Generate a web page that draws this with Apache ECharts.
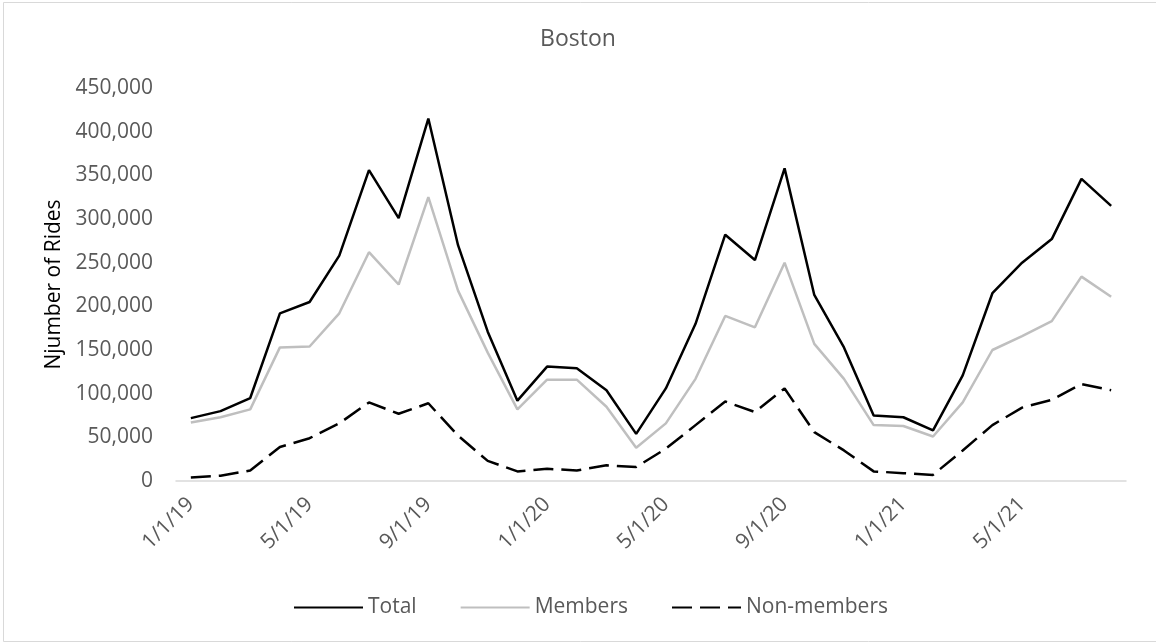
<!DOCTYPE html>
<html>
<head>
<meta charset="utf-8">
<script src="https://cdn.jsdelivr.net/npm/echarts@6/dist/echarts.min.js"></script>
<style>
  html, body { margin: 0; padding: 0; background: #fff; }
  #bostonChart { width: 1156px; height: 644px; }
</style>
</head>
<body>
<div id="bostonChart"></div>
<script>
// monthly rides, Jan 2019 - Aug 2021
const months = [
  '1/1/19', '2/1/19', '3/1/19', '4/1/19', '5/1/19', '6/1/19', '7/1/19', '8/1/19',
  '9/1/19', '10/1/19', '11/1/19', '12/1/19', '1/1/20', '2/1/20', '3/1/20', '4/1/20',
  '5/1/20', '6/1/20', '7/1/20', '8/1/20', '9/1/20', '10/1/20', '11/1/20', '12/1/20',
  '1/1/21', '2/1/21', '3/1/21', '4/1/21', '5/1/21', '6/1/21', '7/1/21', '8/1/21'
];
const total = [
  72000, 80000, 95000, 192000, 205000, 258000, 356000, 301000,
  415000, 270000, 171000, 92000, 131000, 129000, 104000, 54000,
  106000, 180000, 282000, 253000, 358000, 213000, 153000, 75000,
  73000, 58000, 121000, 215000, 250000, 277000, 346000, 315000
];
const members = [
  67000, 73000, 82000, 153000, 154000, 192000, 262000, 225000,
  325000, 218000, 147000, 82000, 116000, 116000, 85000, 38000,
  66000, 117000, 189000, 176000, 250000, 157000, 117000, 64000,
  63000, 51000, 90000, 150000, 166000, 183000, 234000, 211000
];
const nonMembers = [
  4000, 6000, 12000, 39000, 49000, 66000, 90000, 77000,
  89000, 52000, 23000, 11000, 14000, 12000, 18000, 16000,
  37000, 64000, 91000, 79000, 106000, 56000, 35000, 11000,
  9000, 7000, 35000, 64000, 84000, 93000, 111000, 104000
];
const yTicks = [0, 50000, 100000, 150000, 200000, 250000, 300000, 350000, 400000, 450000];

const font = 'Open Sans';
const grey = '#595959';

const chart = echarts.init(document.getElementById('bostonChart'));
chart.setOption({
  animation: false,
  backgroundColor: '#fff',
  textStyle: { fontFamily: font },
  title: {
    text: 'Boston',
    left: 'center',
    top: 23,
    textStyle: { fontFamily: font, fontSize: 23, fontWeight: 'normal', color: grey }
  },
  graphic: [{
    type: 'rect',
    shape: { x: 3.5, y: 2.5, width: 1160, height: 639 },
    style: { fill: 'none', stroke: '#d9d9d9', lineWidth: 1 },
    silent: true
  }],
  grid: { left: 176, right: 30, top: 88, bottom: 163, containLabel: false },
  legend: {
    left: 288,
    top: 592,
    itemWidth: 69,
    itemHeight: 14,
    itemGap: 43,
    itemStyle: { opacity: 0 },
    textStyle: { fontFamily: font, fontSize: 21, color: grey },
    data: ['Total', 'Members', 'Non-members']
  },
  xAxis: {
    type: 'category',
    data: months,
    boundaryGap: true,
    axisLine: { lineStyle: { color: '#d9d9d9', width: 1.5 } },
    axisTick: { interval: 3, length: 7, lineStyle: { color: '#d9d9d9', width: 1.5 } },
    axisLabel: {
      interval: 3,
      rotate: 45,
      margin: 20,
      fontFamily: font,
      fontSize: 21,
      color: grey
    },
    splitLine: { show: false }
  },
  yAxis: {
    type: 'value',
    min: yTicks[0],
    max: yTicks[yTicks.length - 1],
    interval: yTicks[1] - yTicks[0],
    name: 'Njumber of Rides',
    nameLocation: 'middle',
    nameGap: 108,
    nameTextStyle: { fontFamily: font, fontSize: 21, color: '#000' },
    axisLine: { show: false },
    axisTick: { show: false },
    splitLine: { show: false },
    axisLabel: {
      margin: 23,
      fontFamily: font,
      fontSize: 21,
      color: grey,
      formatter: function (v) { return v.toLocaleString('en-US'); }
    }
  },
  series: [
    {
      name: 'Total',
      type: 'line',
      data: total,
      symbol: 'none',
      lineStyle: { color: '#000', width: 2.5 },
      itemStyle: { color: '#000' }
    },
    {
      name: 'Members',
      type: 'line',
      data: members,
      symbol: 'none',
      lineStyle: { color: '#bfbfbf', width: 2.5 },
      itemStyle: { color: '#bfbfbf' }
    },
    {
      name: 'Non-members',
      type: 'line',
      data: nonMembers,
      symbol: 'none',
      lineStyle: { color: '#000', width: 2.5, type: [20, 8] },
      itemStyle: { color: '#000' }
    }
  ]
});
</script>
</body>
</html>
